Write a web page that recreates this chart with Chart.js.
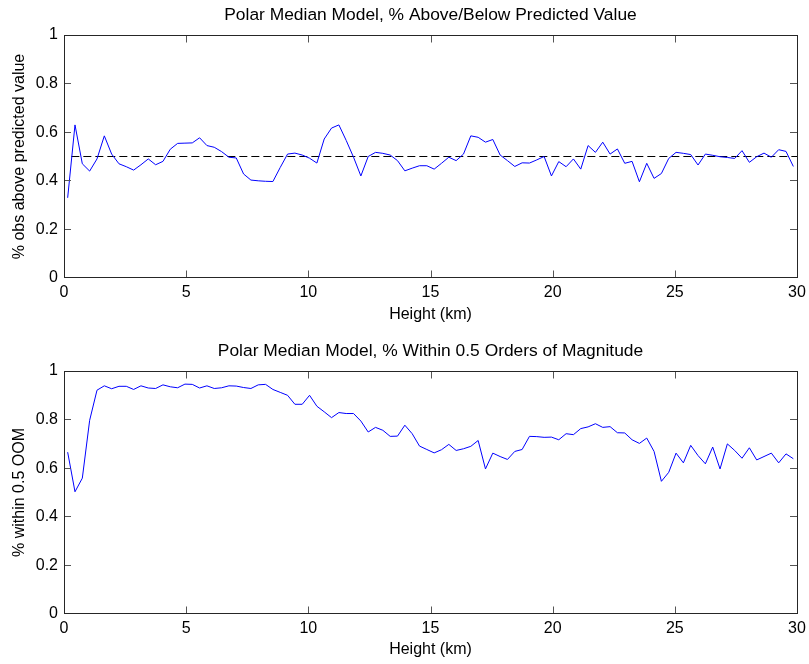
<!DOCTYPE html>
<html>
<head>
<meta charset="utf-8">
<script src="https://cdn.jsdelivr.net/npm/chart.js@4.4.1/dist/chart.umd.min.js"></script>
<style>
    html, body { margin: 0; padding: 0; background: #fff; }
    canvas { display: block; }
</style>
</head>
<body>
<canvas id="topChart" width="809" height="332"></canvas>
<canvas id="bottomChart" width="809" height="332"></canvas>
<script>
// heights (km) of the profile samples
var heights = [
    0.15, 0.45, 0.75, 1.05, 1.35, 1.65, 1.95, 2.25, 2.55, 2.85,
    3.15, 3.45, 3.75, 4.05, 4.35, 4.65, 4.95, 5.25, 5.55, 5.85,
    6.15, 6.45, 6.75, 7.05, 7.35, 7.65, 7.95, 8.25, 8.55, 8.85,
    9.15, 9.45, 9.75, 10.05, 10.35, 10.65, 10.95, 11.25, 11.55, 11.85,
    12.15, 12.45, 12.75, 13.05, 13.35, 13.65, 13.95, 14.25, 14.55, 14.85,
    15.15, 15.45, 15.75, 16.05, 16.35, 16.65, 16.95, 17.25, 17.55, 17.85,
    18.15, 18.45, 18.75, 19.05, 19.35, 19.65, 19.95, 20.25, 20.55, 20.85,
    21.15, 21.45, 21.75, 22.05, 22.35, 22.65, 22.95, 23.25, 23.55, 23.85,
    24.15, 24.45, 24.75, 25.05, 25.35, 25.65, 25.95, 26.25, 26.55, 26.85,
    27.15, 27.45, 27.75, 28.05, 28.35, 28.65, 28.95, 29.25, 29.55, 29.85
];

// fraction of obs above the predicted value
var aboveFraction = [
    0.33, 0.63, 0.47, 0.44, 0.49, 0.585, 0.51, 0.47, 0.458, 0.444,
    0.466, 0.49, 0.466, 0.48, 0.53, 0.554, 0.555, 0.556, 0.577, 0.545,
    0.538, 0.52, 0.497, 0.494, 0.428, 0.403, 0.40, 0.398, 0.397, 0.455,
    0.51, 0.514, 0.506, 0.493, 0.473, 0.572, 0.617, 0.63, 0.566, 0.497,
    0.42, 0.50, 0.517, 0.513, 0.506, 0.483, 0.441, 0.452, 0.462, 0.462,
    0.448, 0.472, 0.497, 0.483, 0.51, 0.585, 0.579, 0.559, 0.57, 0.506,
    0.483, 0.459, 0.474, 0.473, 0.486, 0.50, 0.42, 0.479, 0.458, 0.49,
    0.448, 0.545, 0.517, 0.559, 0.51, 0.531, 0.472, 0.48, 0.396, 0.472,
    0.41, 0.43, 0.492, 0.517, 0.513, 0.508, 0.465, 0.51, 0.505, 0.499,
    0.496, 0.492, 0.524, 0.476, 0.499, 0.514, 0.497, 0.528, 0.521, 0.459
];

// fraction within 0.5 orders of magnitude
var withinOom = [
    0.666, 0.503, 0.559, 0.797, 0.921, 0.939, 0.927, 0.937, 0.937, 0.924,
    0.939, 0.93, 0.928, 0.943, 0.935, 0.931, 0.946, 0.945, 0.93, 0.939,
    0.928, 0.931, 0.939, 0.938, 0.932, 0.928, 0.943, 0.945, 0.924, 0.912,
    0.90, 0.863, 0.863, 0.90, 0.855, 0.832, 0.808, 0.829, 0.825, 0.825,
    0.794, 0.749, 0.768, 0.756, 0.731, 0.732, 0.777, 0.742, 0.691, 0.677,
    0.663, 0.676, 0.698, 0.673, 0.68, 0.69, 0.714, 0.597, 0.662, 0.648,
    0.636, 0.669, 0.677, 0.731, 0.73, 0.727, 0.728, 0.717, 0.742, 0.738,
    0.763, 0.77, 0.783, 0.768, 0.771, 0.746, 0.745, 0.717, 0.702, 0.724,
    0.669, 0.546, 0.583, 0.662, 0.622, 0.694, 0.652, 0.618, 0.687, 0.597,
    0.70, 0.673, 0.641, 0.684, 0.634, 0.648, 0.662, 0.622, 0.659, 0.639
];

// dashed 50% reference line
var refLineX = [0.3, 30];
var refLineY = [0.5, 0.5];

var xTickStep = 5;
var yTickStep = 0.2;

var titleSize = 17.4;

Chart.defaults.font.family = "'Liberation Sans', Arial, sans-serif";
Chart.defaults.font.size = 16;
Chart.defaults.color = '#000';

function toPoints(xs, ys) {
    return xs.map(function (x, i) { return { x: x, y: ys[i] }; });
}

// matlab style box with inward ticks on all four sides
var matlabBox = {
    id: 'matlabBox',
    afterDatasetsDraw: function (chart) {
        var ctx = chart.ctx;
        var a = chart.chartArea;
        var xs = chart.scales.x, ys = chart.scales.y;
        var len = 7;
        var top = a.top + 0.5, bottom = a.bottom - 0.5;
        ctx.save();
        ctx.lineWidth = 1;
        ctx.strokeStyle = '#555';
        ctx.beginPath();
        xs.ticks.forEach(function (t) {
            var px = Math.round(xs.getPixelForValue(t.value)) + 0.5;
            ctx.moveTo(px, bottom); ctx.lineTo(px, bottom - len);
            ctx.moveTo(px, top); ctx.lineTo(px, top + len);
        });
        ys.ticks.forEach(function (t) {
            var py = Math.min(Math.floor(ys.getPixelForValue(t.value)), a.bottom - 1) + 0.5;
            ctx.moveTo(a.left, py); ctx.lineTo(a.left + len, py);
            ctx.moveTo(a.right, py); ctx.lineTo(a.right - len, py);
        });
        ctx.stroke();
        ctx.strokeStyle = '#262626';
        ctx.strokeRect(a.left + 0.5, top, a.right - a.left, bottom - top);
        ctx.restore();
    }
};

function makeChart(canvasId, opts) {
    var datasets = [{
        data: toPoints(heights, opts.values),
        borderColor: '#0000ff',
        borderWidth: 1,
        pointRadius: 0,
        tension: 0
    }];
    if (opts.refLine) {
        datasets.push({
            data: toPoints(refLineX, refLineY),
            borderColor: '#000',
            borderWidth: 1,
            borderDash: [8, 4],
            pointRadius: 0
        });
    }
    return new Chart(document.getElementById(canvasId), {
        type: 'line',
        data: { datasets: datasets },
        plugins: [matlabBox],
        options: {
            responsive: false,
            animation: false,
            devicePixelRatio: 1,
            layout: { padding: { left: 0, right: 12, top: 0, bottom: 0 } },
            plugins: {
                legend: { display: false },
                tooltip: { enabled: false },
                title: {
                    display: true,
                    fullSize: false, // centre over the plot area like matlab
                    text: opts.title,
                    color: '#000',
                    font: { size: titleSize, weight: 'normal' },
                    padding: { top: opts.titleTop, bottom: opts.areaTop - opts.titleTop - titleSize * 1.2 }
                }
            },
            scales: {
                x: {
                    type: 'linear',
                    min: 0,
                    max: 30,
                    grid: { display: false, drawTicks: false },
                    border: { display: false },
                    ticks: { stepSize: xTickStep, padding: 5, maxRotation: 0 },
                    title: { display: true, text: 'Height (km)', padding: { top: 0, bottom: opts.xTitleBottom } },
                    afterFit: function (s) {
                        s.height = opts.xAxisHeight;
                        s.paddingLeft = 0; s.paddingRight = 0;
                    }
                },
                y: {
                    min: 0,
                    max: 1,
                    grid: { display: false, drawTicks: false },
                    border: { display: false },
                    ticks: {
                        stepSize: yTickStep,
                        padding: 6,
                        callback: function (v) { return String(Math.round(v * 10) / 10); }
                    },
                    title: { display: true, text: opts.yLabel, padding: { top: 10, bottom: 0 } },
                    afterFit: function (s) {
                        s.width = 64;
                        s.paddingTop = 0; s.paddingBottom = 0;
                    }
                }
            }
        }
    });
}

makeChart('topChart', {
    values: aboveFraction,
    refLine: true,
    title: 'Polar Median Model, % Above/Below Predicted Value',
    yLabel: '% obs above predicted value',
    titleTop: 4.6,
    areaTop: 35,
    xAxisHeight: 54,
    xTitleBottom: 7.4
});

makeChart('bottomChart', {
    values: withinOom,
    refLine: false,
    title: 'Polar Median Model, % Within 0.5 Orders of Magnitude',
    yLabel: '% within 0.5 OOM',
    titleTop: 8.6,
    areaTop: 39,
    xAxisHeight: 50,
    xTitleBottom: 5
});
</script>
</body>
</html>
